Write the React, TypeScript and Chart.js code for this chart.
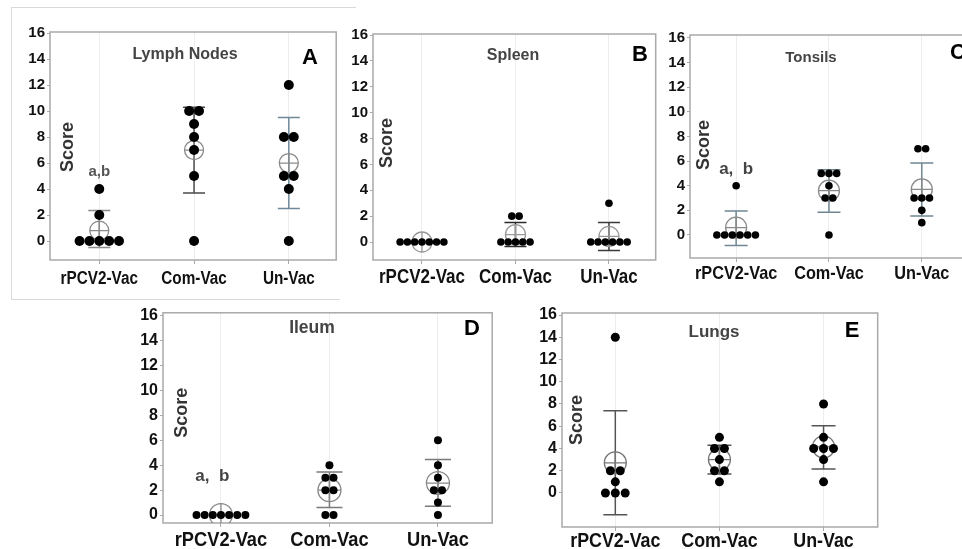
import React, { useEffect, useRef } from "react";
import { Chart, registerables } from "chart.js";

Chart.register(...registerables);

// ---------- categories & ticks ----------
const groups = ["rPCV2-Vac", "Com-Vac", "Un-Vac"];
const yTickValues = [0, 2, 4, 6, 8, 10, 12, 14, 16];

// ---------- A: Lymph Nodes ----------
const lymphRPCV2 = [0, 0, 0, 0, 0, 2, 4];
const lymphCom = [10, 10, 9, 8, 7, 5, 0];
const lymphUn = [12, 8, 8, 5, 5, 4, 0];
const lymphMean = [0.8, 7.0, 6.0];
const lymphLow = [-0.5, 3.7, 2.5];
const lymphHigh = [2.35, 10.3, 9.5];

// ---------- B: Spleen ----------
const spleenRPCV2 = [0, 0, 0, 0, 0, 0, 0];
const spleenCom = [2, 2, 0, 0, 0, 0, 0];
const spleenUn = [3, 0, 0, 0, 0, 0, 0];
const spleenMean = [0, 0.57, 0.43];
const spleenLow: (number | null)[] = [null, -0.35, -0.65];
const spleenHigh: (number | null)[] = [null, 1.5, 1.5];

// ---------- C: Tonsils ----------
const tonsilRPCV2 = [4, 0, 0, 0, 0, 0, 0];
const tonsilCom = [5, 5, 5, 4, 3, 3, 0];
const tonsilUn = [7, 7, 3, 3, 3, 2, 1];
const tonsilMean = [0.6, 3.6, 3.7];
const tonsilLow = [-0.85, 1.85, 1.55];
const tonsilHigh = [1.95, 5.3, 5.85];

// ---------- D: Ileum ----------
const ileumRPCV2 = [0, 0, 0, 0, 0, 0, 0];
const ileumCom = [4, 3, 3, 2, 2, 0, 0];
const ileumUn = [6, 4, 3, 2, 2, 1, 0];
const ileumMean = [0, 2.0, 2.57];
const ileumLow: (number | null)[] = [null, 0.6, 0.7];
const ileumHigh: (number | null)[] = [null, 3.45, 4.45];

// ---------- E: Lungs ----------
const lungRPCV2 = [14, 2, 2, 1, 0, 0, 0];
const lungCom = [5, 4, 4, 3, 2, 2, 1];
const lungUn = [8, 5, 4, 4, 4, 3, 1];
const lungMean = [2.71, 3.0, 4.14];
const lungLow = [-1.95, 1.7, 2.15];
const lungHigh = [7.4, 4.3, 6.05];

const SANS = "'Liberation Sans', Arial, sans-serif";

type Panel = {
  title: string;
  letter: string;
  values: number[][];
  means: number[];
  lows: (number | null)[];
  highs: (number | null)[];
  sig?: { text: string; value: number; dx: number; size: number; color: string };
  // layout / style
  box: { left: number; top: number; width: number; height: number };
  yAxisW: number;
  padT: number;
  padR: number;
  xAxisH: number;
  yMin: number;
  yMax: number;
  xMin: number;
  xMax: number;
  spacing: number;
  dotR: number;
  meanR: number;
  capHalf: number;
  errColors: string[];
  meanColor: string;
  tickSize: number;
  labelSize: number;
  labelBase: number;
  labelScale: number;
  titleSize: number;
  titlePos: [number, number];
  letterPos: [number, number];
  scorePos: [number, number];
  white?: boolean;
};

const panels: Panel[] = [
  {
    title: "Lymph Nodes",
    letter: "A",
    values: [lymphRPCV2, lymphCom, lymphUn],
    means: lymphMean,
    lows: lymphLow,
    highs: lymphHigh,
    sig: { text: "a,b", value: 5.3, dx: 0, size: 15, color: "#555" },
    box: { left: 12, top: 8, width: 335, height: 290 },
    yAxisW: 38,
    padT: 24,
    padR: 7,
    xAxisH: 38,
    yMin: -1.46,
    yMax: 16.08,
    xMin: 0.48,
    xMax: 3.5,
    spacing: 0.104,
    dotR: 5,
    meanR: 9.5,
    capHalf: 11,
    errColors: ["#8c8c8c", "#4a4a4a", "#6f8898"],
    meanColor: "#8a8a8a",
    tickSize: 15,
    labelSize: 18,
    labelBase: 24,
    labelScale: 0.85,
    titleSize: 16,
    titlePos: [135, 23],
    letterPos: [260, 26],
    scorePos: [18, 115],
  },
  {
    title: "Spleen",
    letter: "B",
    values: [spleenRPCV2, spleenCom, spleenUn],
    means: spleenMean,
    lows: spleenLow,
    highs: spleenHigh,
    box: { left: 340, top: 20, width: 327, height: 280 },
    yAxisW: 33,
    padT: 14,
    padR: 5,
    xAxisH: 40,
    yMin: -1.39,
    yMax: 16.08,
    xMin: 0.476,
    xMax: 3.5,
    spacing: 0.078,
    dotR: 3.8,
    meanR: 10,
    capHalf: 11,
    errColors: ["#333333", "#2a2a2a", "#3a3a3a"],
    meanColor: "#999999",
    tickSize: 15,
    labelSize: 20,
    labelBase: 23,
    labelScale: 0.85,
    titleSize: 16,
    titlePos: [140, 22],
    letterPos: [267, 21],
    scorePos: [14, 109],
    white: true,
  },
  {
    title: "Tonsils",
    letter: "C",
    values: [tonsilRPCV2, tonsilCom, tonsilUn],
    means: tonsilMean,
    lows: tonsilLow,
    highs: tonsilHigh,
    sig: { text: "a,  b", value: 5.36, dx: 0, size: 17, color: "#444" },
    box: { left: 664, top: 20, width: 316, height: 280 },
    yAxisW: 26,
    padT: 15,
    padR: 7,
    xAxisH: 42,
    yMin: -1.87,
    yMax: 16.24,
    xMin: 0.503,
    xMax: 3.5,
    spacing: 0.083,
    dotR: 3.8,
    meanR: 10.5,
    capHalf: 11.5,
    errColors: ["#6f8792", "#6f8792", "#6f8792"],
    meanColor: "#8a8a8a",
    tickSize: 15,
    labelSize: 18.5,
    labelBase: 21,
    labelScale: 0.88,
    titleSize: 15,
    titlePos: [121, 23],
    letterPos: [268, 18],
    scorePos: [14, 110],
    white: true,
  },
  {
    title: "Ileum",
    letter: "D",
    values: [ileumRPCV2, ileumCom, ileumUn],
    means: ileumMean,
    lows: ileumLow,
    highs: ileumHigh,
    sig: { text: "a,  b", value: 3.1, dx: -0.08, size: 17, color: "#444" },
    box: { left: 130, top: 300, width: 375, height: 249 },
    yAxisW: 33,
    padT: 12,
    padR: 7,
    xAxisH: 26,
    yMin: -0.64,
    yMax: 16.24,
    xMin: 0.466,
    xMax: 3.5,
    spacing: 0.075,
    dotR: 4,
    meanR: 11.5,
    capHalf: 13,
    errColors: ["#777777", "#7a7a7a", "#7a7a7a"],
    meanColor: "#888888",
    tickSize: 16,
    labelSize: 21,
    labelBase: 23,
    labelScale: 0.87,
    titleSize: 17.5,
    titlePos: [149, 15],
    letterPos: [309, 16],
    scorePos: [19, 100],
  },
  {
    title: "Lungs",
    letter: "E",
    values: [lungRPCV2, lungCom, lungUn],
    means: lungMean,
    lows: lungLow,
    highs: lungHigh,
    box: { left: 525, top: 300, width: 365, height: 249 },
    yAxisW: 37,
    padT: 13,
    padR: 8,
    xAxisH: 22,
    yMin: -3.06,
    yMax: 16.18,
    xMin: 0.488,
    xMax: 3.52,
    spacing: 0.095,
    dotR: 4.5,
    meanR: 11,
    capHalf: 12,
    errColors: ["#555555", "#555555", "#555555"],
    meanColor: "#777777",
    tickSize: 16,
    labelSize: 20.5,
    labelBase: 20,
    labelScale: 0.87,
    titleSize: 17,
    titlePos: [152, 19],
    letterPos: [290, 18],
    scorePos: [15, 107],
  },
];

// lay out the dots of one group as a small swarm: equal values sit side by side
function swarm(values: number[], cat: number, spacing: number) {
  const counts = new Map<number, number>();
  values.forEach((v) => counts.set(v, (counts.get(v) || 0) + 1));
  const seen = new Map<number, number>();
  return values.map((v) => {
    const n = counts.get(v) || 1;
    const k = seen.get(v) || 0;
    seen.set(v, k + 1);
    return { x: cat + (k - (n - 1) / 2) * spacing, y: v };
  });
}

function makeDecor(p: Panel) {
  return {
    id: "decor" + p.letter,
    beforeDatasetsDraw(chart: any) {
      const { ctx, chartArea: a, scales } = chart;
      const x = scales.x;
      const y = scales.y;
      ctx.save();
      // frame
      ctx.strokeStyle = "#a9a9a9";
      ctx.lineWidth = 1.5;
      ctx.strokeRect(a.left, a.top, a.right - a.left, a.bottom - a.top);
      // error bars
      ctx.lineWidth = 1.5;
      p.means.forEach((_, i) => {
        const lo = p.lows[i];
        const hi = p.highs[i];
        if (lo == null || hi == null) return;
        const px = x.getPixelForValue(i + 1);
        const py1 = y.getPixelForValue(lo);
        const py2 = y.getPixelForValue(hi);
        ctx.strokeStyle = p.errColors[i];
        ctx.beginPath();
        ctx.moveTo(px, py1);
        ctx.lineTo(px, py2);
        ctx.moveTo(px - p.capHalf, py1);
        ctx.lineTo(px + p.capHalf, py1);
        ctx.moveTo(px - p.capHalf, py2);
        ctx.lineTo(px + p.capHalf, py2);
        ctx.stroke();
      });
      ctx.restore();
    },
    afterDraw(chart: any) {
      const { ctx, chartArea: a, scales } = chart;
      ctx.save();
      // category labels (condensed bold, like the original figure)
      ctx.fillStyle = "#111";
      ctx.textAlign = "center";
      ctx.textBaseline = "alphabetic";
      ctx.font = `bold ${p.labelSize}px ${SANS}`;
      groups.forEach((g, i) => {
        const px = scales.x.getPixelForValue(i + 1);
        ctx.save();
        ctx.translate(px, a.bottom + p.labelBase);
        ctx.scale(p.labelScale, 1);
        ctx.fillText(g, 0, 0);
        ctx.restore();
      });
      ctx.textBaseline = "middle";
      // title
      ctx.fillStyle = "#444";
      ctx.font = `bold ${p.titleSize}px ${SANS}`;
      ctx.fillText(p.title, a.left + p.titlePos[0], a.top + p.titlePos[1]);
      // panel letter
      ctx.fillStyle = "#000";
      ctx.font = `bold 22px ${SANS}`;
      ctx.fillText(p.letter, a.left + p.letterPos[0], a.top + p.letterPos[1]);
      // significance letters
      if (p.sig) {
        ctx.fillStyle = p.sig.color;
        ctx.font = `bold ${p.sig.size}px ${SANS}`;
        ctx.fillText(
          p.sig.text,
          scales.x.getPixelForValue(1 + p.sig.dx),
          scales.y.getPixelForValue(p.sig.value)
        );
      }
      // y axis title
      ctx.translate(a.left + p.scorePos[0], a.top + p.scorePos[1]);
      ctx.rotate(-Math.PI / 2);
      ctx.fillStyle = "#333";
      ctx.font = `bold 18px ${SANS}`;
      ctx.fillText("Score", 0, 0);
      ctx.restore();
    },
  };
}

function PanelChart({ p }: { p: Panel }) {
  const ref = useRef<HTMLCanvasElement | null>(null);
  useEffect(() => {
    if (!ref.current) return;
    const dots = p.values.flatMap((vals, i) => swarm(vals, i + 1, p.spacing));
    const meanPts = p.means.map((m, i) => ({ x: i + 1, y: m }));
    const chart = new Chart(ref.current, {
      type: "scatter",
      data: {
        datasets: [
          {
            data: dots,
            pointRadius: p.dotR,
            pointBackgroundColor: "#000",
            pointBorderWidth: 0,
            pointHoverRadius: p.dotR,
          },
          {
            data: meanPts,
            pointStyle: "circle",
            pointRadius: p.meanR,
            pointBackgroundColor: "rgba(0,0,0,0)",
            pointBorderColor: p.meanColor,
            pointBorderWidth: 1.3,
          },
          {
            data: meanPts,
            pointStyle: "cross",
            pointRadius: p.meanR,
            pointBorderColor: p.meanColor,
            pointBorderWidth: 1.3,
          },
        ],
      },
      options: {
        animation: false,
        responsive: false,
        maintainAspectRatio: false,
        devicePixelRatio: 1,
        events: [],
        layout: { padding: { top: p.padT, right: p.padR, left: 0, bottom: 0 } },
        plugins: { legend: { display: false }, tooltip: { enabled: false } },
        scales: {
          x: {
            type: "linear",
            min: p.xMin,
            max: p.xMax,
            afterBuildTicks: (s: any) => {
              s.ticks = groups.map((_, i) => ({ value: i + 1 }));
            },
            afterFit: (s: any) => {
              s.height = p.xAxisH;
            },
            ticks: {
              display: false,
              autoSkip: false,
              maxRotation: 0,
              callback: (v: any) => groups[Math.round(Number(v)) - 1] ?? "",
            },
            grid: {
              color: "#ededed",
              lineWidth: 1,
              drawTicks: true,
              tickLength: 4,
              tickColor: "#aaaaaa",
            },
            border: { display: false },
          },
          y: {
            type: "linear",
            min: p.yMin,
            max: p.yMax,
            afterBuildTicks: (s: any) => {
              s.ticks = yTickValues.map((v) => ({ value: v }));
            },
            afterFit: (s: any) => {
              s.width = p.yAxisW;
            },
            ticks: {
              padding: 2,
              color: "#111",
              font: { family: SANS, size: p.tickSize, weight: "bold" },
            },
            grid: {
              drawOnChartArea: false,
              drawTicks: true,
              tickLength: 3,
              tickColor: "#aaaaaa",
            },
            border: { display: false },
          },
        },
      },
      plugins: [makeDecor(p)],
    } as any);
    return () => chart.destroy();
  }, [p]);
  return (
    <div
      style={{
        position: "absolute",
        left: p.box.left,
        top: p.box.top,
        width: p.box.width,
        height: p.box.height,
        background: p.white ? "#fff" : "transparent",
      }}
    >
      <canvas
        ref={ref}
        width={p.box.width}
        height={p.box.height}
        style={{ display: "block", width: p.box.width, height: p.box.height }}
      />
    </div>
  );
}

export default function App() {
  return (
    <div
      style={{
        position: "fixed",
        left: 0,
        top: 0,
        width: 962,
        height: 549,
        overflow: "hidden",
        background: "#fff",
      }}
    >
      <div
        style={{
          position: "absolute",
          left: 11,
          top: 7,
          width: 344,
          height: 291,
          borderLeft: "1px solid #d9d9d9",
          borderTop: "1px solid #d9d9d9",
          borderBottom: "1px solid #d9d9d9",
        }}
      />
      {panels.map((p) => (
        <PanelChart key={p.letter} p={p} />
      ))}
    </div>
  );
}
